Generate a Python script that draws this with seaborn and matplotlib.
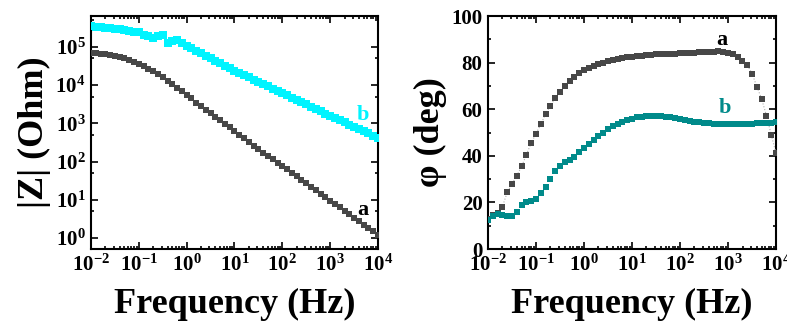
import numpy as np
import pandas as pd
import matplotlib
matplotlib.use('Agg')
import matplotlib.pyplot as plt
import seaborn as sns
from matplotlib.ticker import LogLocator, MultipleLocator, NullFormatter

# Measurement grid: 10 points per decade, 1e-2 .. 1e4 Hz
freq = np.logspace(-2, 4, 61)

# |Z| (Ohm), curve a (gray)
z_a = [7.1e4, 6.9e4, 6.6e4, 6.5e4, 6.2e4, 5.9e4, 5.5e4, 5.0e4, 4.6e4, 4.1e4,
       3.6e4, 3.2e4, 2.7e4, 2.3e4, 1.9e4, 1.6e4, 1.3e4, 1.05e4, 8.5e3, 6.9e3,
       5.5e3, 4.5e3, 3.5e3, 2.9e3, 2.3e3, 1.9e3, 1.5e3, 1.2e3, 950, 780,
       630, 500, 410, 330, 260, 210, 170, 140, 115, 93,
       76, 62, 50, 41, 33, 27, 22, 18, 14.5, 11.7,
       9.5, 7.8, 6.3, 5.1, 4.2, 3.4, 2.75, 2.24, 1.82, 1.48,
       1.2]

# |Z| (Ohm), curve b (cyan)
z_b = [3.5e5, 3.4e5, 3.3e5, 3.2e5, 3.2e5, 3.0e5, 2.9e5, 2.75e5, 2.6e5, 2.5e5,
       2.4e5, 2.1e5, 1.9e5, 1.75e5, 1.9e5, 2.1e5, 1.3e5, 1.45e5, 1.5e5, 1.3e5,
       1.05e5, 9.3e4, 7.9e4, 6.8e4, 5.9e4, 5.0e4, 4.3e4, 3.7e4, 3.2e4, 2.75e4,
       2.4e4, 2.1e4, 1.8e4, 1.6e4, 1.4e4, 1.23e4, 1.07e4, 9.3e3, 8.1e3, 7.1e3,
       6.2e3, 5.4e3, 4.7e3, 4.2e3, 3.6e3, 3.2e3, 2.75e3, 2.4e3, 2.1e3, 1.8e3,
       1.6e3, 1.4e3, 1.23e3, 1.07e3, 930, 810, 710, 620, 550, 480,
       420]

# phase (deg), curve a (gray)
phi_a = [13.0, 14.5, 15.5, 18.2, 24.3, 27.9, 31.5, 35.5, 40.5, 45.5,
         49.5, 53.5, 58.0, 61.5, 64.8, 67.5, 70.0, 72.3, 74.0, 75.4,
         76.7, 77.6, 78.5, 79.3, 80.0, 80.6, 81.1, 81.5, 81.9, 82.2,
         82.5, 82.8, 83.0, 83.2, 83.4, 83.5, 83.6, 83.7, 83.8, 83.9,
         84.0, 84.1, 84.2, 84.3, 84.4, 84.5, 84.6, 84.7, 84.8, 84.6,
         84.2, 83.5, 82.3, 80.6, 79.0, 75.3, 69.7, 64.4, 57.2, 49.0,
         41.0]

# phase (deg), curve b (teal)
phi_b = [12.4, 14.0, 14.9, 14.6, 14.2, 14.3, 16.0, 18.7, 20.3, 20.7,
         21.5, 24.0, 26.8, 30.0, 33.5, 35.8, 37.4, 38.2, 39.4, 41.6,
         43.4, 45.0, 46.8, 48.5, 50.0, 51.3, 52.8, 53.8, 54.5, 55.3,
         56.0, 56.5, 56.8, 57.0, 57.1, 57.1, 57.0, 56.8, 56.5, 56.2,
         55.8, 55.4, 55.0, 54.6, 54.3, 54.1, 53.9, 53.8, 53.7, 53.6,
         53.6, 53.6, 53.6, 53.6, 53.7, 53.8, 53.9, 54.0, 54.1, 54.2,
         54.3]

df = pd.DataFrame({'freq': freq, 'z_a': z_a, 'z_b': z_b,
                   'phi_a': phi_a, 'phi_b': phi_b})

gray = '#474747'
cyan = '#00f4ff'
teal = '#008a8a'

sns.set_style('ticks')
plt.rcParams['font.family'] = ['Liberation Serif', 'DejaVu Serif']
plt.rcParams['font.weight'] = 'bold'
plt.rcParams['mathtext.default'] = 'regular'
plt.rcParams['axes.linewidth'] = 1.5
for key in ['text.color', 'axes.labelcolor', 'xtick.color', 'ytick.color',
            'axes.edgecolor']:
    plt.rcParams[key] = 'black'

fig = plt.figure(figsize=(7.87, 3.22), dpi=100)
ax1 = fig.add_axes([0.1156, 0.2267, 0.3647, 0.7236])
ax2 = fig.add_axes([0.6201, 0.2267, 0.3660, 0.7236])

# left: impedance modulus
sns.scatterplot(data=df, x='freq', y='z_b', ax=ax1, marker='s', s=30,
                color=cyan, linewidth=0, zorder=3)
sns.scatterplot(data=df, x='freq', y='z_a', ax=ax1, marker='s', s=15,
                color=gray, linewidth=0, zorder=3)
ax1.set_xscale('log')
ax1.set_yscale('log')
ax1.set_xlim(1e-2, 1e4)
ax1.set_ylim(10 ** -0.29, 10 ** 5.81)
ax1.text(10 ** 3.69, 10 ** 3.22, 'b', color=cyan, fontsize=16,
         fontweight='bold', ha='center', va='center')
ax1.text(10 ** 3.69, 10 ** 0.73, 'a', color='black', fontsize=16,
         fontweight='bold', ha='center', va='center')
ax1.set_xlabel('Frequency (Hz)', fontsize=26, fontweight='bold', labelpad=9)
ax1.set_ylabel('|Z| (Ohm)', fontsize=26, fontweight='bold', labelpad=3)

# right: phase angle
sns.lineplot(data=df, x='freq', y='phi_a', ax=ax2, color='#b0b0b0',
             linewidth=0.8, linestyle=':', marker='s', markersize=4.3,
             markerfacecolor=gray, markeredgewidth=0, zorder=3)
sns.scatterplot(data=df, x='freq', y='phi_b', ax=ax2, marker='s', s=17,
                color=teal, linewidth=0, zorder=4)
ax2.set_xscale('log')
ax2.set_xlim(1e-2, 1e4)
ax2.set_ylim(0, 100)
ax2.yaxis.set_major_locator(MultipleLocator(20))
ax2.yaxis.set_minor_locator(MultipleLocator(10))
ax2.text(10 ** 2.86, 89.7, 'a', color='black', fontsize=16,
         fontweight='bold', ha='center', va='center')
ax2.text(10 ** 2.94, 60.5, 'b', color=teal, fontsize=16,
         fontweight='bold', ha='center', va='center')
ax2.set_xlabel('Frequency (Hz)', fontsize=26, fontweight='bold', labelpad=9)
ax2.set_ylabel('φ (deg)', fontsize=26, fontweight='bold', labelpad=3)

for ax in (ax1, ax2):
    ax.xaxis.set_major_locator(LogLocator(base=10, numticks=20))
    ax.xaxis.set_minor_locator(LogLocator(base=10, subs=np.arange(2, 10), numticks=100))
    ax.xaxis.set_minor_formatter(NullFormatter())
    ax.tick_params(which='both', direction='in', top=True, right=True,
                   width=1.2, labelsize=15)
    ax.tick_params(which='major', length=5, pad=4)
    ax.tick_params(which='minor', length=2.5)
ax1.yaxis.set_major_locator(LogLocator(base=10, numticks=20))
ax1.yaxis.set_minor_locator(LogLocator(base=10, subs=[5.0], numticks=20))
ax1.yaxis.set_minor_formatter(NullFormatter())

fig.savefig('out.png', dpi=100)
